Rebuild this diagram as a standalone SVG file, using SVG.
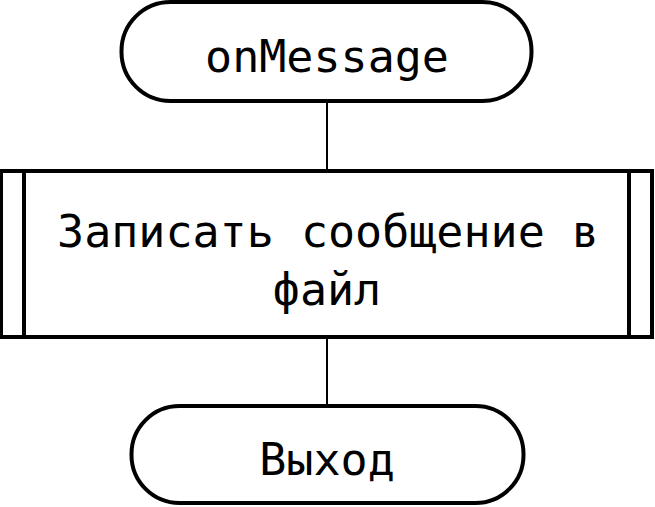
<svg xmlns="http://www.w3.org/2000/svg" width="655" height="507" viewBox="0 0 655 507">
<style>
.shape{fill:#fff;stroke:#000;stroke-width:4}
.line{stroke:#000;stroke-width:2;fill:none}
.t{font-family:"DejaVu Sans Mono","Liberation Mono",monospace;font-size:45px;fill:#000;text-anchor:middle}
</style>
<rect width="655" height="507" fill="#fff"/>
<g id="connectors">
<line class="line" x1="327" y1="101" x2="327" y2="171"/>
<line class="line" x1="327" y1="337" x2="327" y2="406"/>
</g>
<g id="start">
<rect class="shape" x="121.5" y="2" width="410" height="99" rx="49" ry="49"/>
<text class="t" x="327" y="72">onMessage</text>
</g>
<g id="process">
<rect class="shape" x="1" y="171" width="651" height="166"/>
<line class="shape" x1="24" y1="171" x2="24" y2="337"/>
<line class="shape" x1="629" y1="171" x2="629" y2="337"/>
<text class="t" x="328" y="247">Записать сообщение в</text>
<text class="t" x="327" y="305">файл</text>
</g>
<g id="end">
<rect class="shape" x="131.5" y="406" width="392" height="97" rx="48" ry="48"/>
<text class="t" x="327" y="475">Выход</text>
</g>
</svg>
